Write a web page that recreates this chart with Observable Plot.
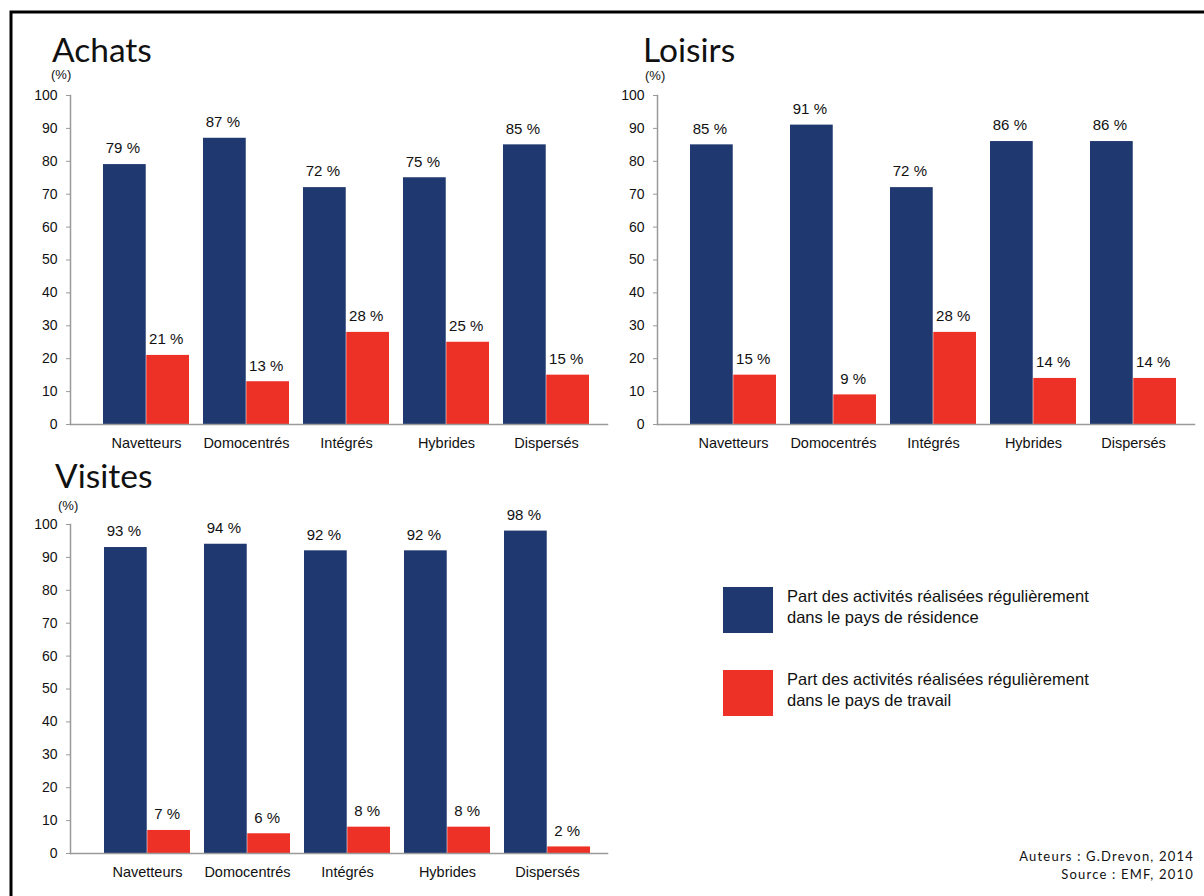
<!DOCTYPE html>
<html><head><meta charset="utf-8">
<script src="https://cdn.jsdelivr.net/npm/d3@7"></script>
<script src="https://cdn.jsdelivr.net/npm/@observablehq/plot@0.6"></script>
<style>
body{margin:0;background:#fff;}
#page{position:relative;width:1204px;height:896px;overflow:hidden;background:#fff;}
.panel{position:absolute;}
#overlay{position:absolute;left:0;top:0;pointer-events:none;}
</style></head><body><div id="page"></div>
<script>
// ---- data ----
const categories = ["Navetteurs", "Domocentrés", "Intégrés", "Hybrides", "Dispersés"];
const achatsResidence = [79, 87, 72, 75, 85];
const achatsTravail = [21, 13, 28, 25, 15];
const loisirsResidence = [85, 91, 72, 86, 86];
const loisirsTravail = [15, 9, 28, 14, 14];
const visitesResidence = [93, 94, 92, 92, 98];
const visitesTravail = [7, 6, 8, 8, 2];
const yTicks = [0, 10, 20, 30, 40, 50, 60, 70, 80, 90, 100];
const panelTitles = ["Achats", "Loisirs", "Visites"];
const unitLabel = "(%)";
const seriesNames = [
  ["Part des activités réalisées régulièrement", "dans le pays de résidence"],
  ["Part des activités réalisées régulièrement", "dans le pays de travail"]
];
const seriesColors = ["#1f386f", "#ee3126"];
const captionLines = ["Auteurs : G.Drevon, 2014", "Source : EMF, 2010"];

const page = document.getElementById("page");
const axisColor = "#9a9a9a";
const textColor = "#111";

function panel(res, trav, {left, top, width, rangeX}) {
  const rows = categories.map((c, i) => ({cat: c, res: res[i], trav: trav[i]}));
  const bw = (rangeX[1] - rangeX[0]) / (categories.length - 0.14) * 0.86;
  const half = bw / 2;
  const chart = Plot.plot({
    width, height: 384,
    marginTop: 15, marginBottom: 40, marginLeft: 70, marginRight: width - 607,
    style: {fontFamily: "'Liberation Sans', Arial, sans-serif", fontSize: "14px", color: textColor, background: "transparent", overflow: "visible"},
    x: {domain: categories, range: rangeX, paddingInner: 0.14, paddingOuter: 0, label: null},
    y: {domain: [0, 100], label: null},
    marks: [
      Plot.barY(rows, {x: "cat", y: "res", fill: seriesColors[0], insetRight: half}),
      Plot.barY(rows, {x: "cat", y: "trav", fill: seriesColors[1], insetLeft: half}),
      Plot.text(rows, {x: "cat", y: "res", text: d => d.res + " %", dx: -half / 2 - 2, dy: -16, lineAnchor: "middle", fontSize: 15, fill: textColor}),
      Plot.text(rows, {x: "cat", y: "trav", text: d => d.trav + " %", dx: half / 2 - 2, dy: -16, lineAnchor: "middle", fontSize: 15, fill: textColor}),
      Plot.axisY({ticks: yTicks, tickSize: 4, tickPadding: 9, stroke: axisColor, fill: textColor, fontSize: 14, label: null}),
      Plot.axisX({tickSize: 0, tickPadding: 13, fontSize: 14.5, fill: textColor, label: null}),
      Plot.frame({anchor: "left", stroke: axisColor, strokeWidth: 1.5}),
      Plot.frame({anchor: "bottom", stroke: axisColor, strokeWidth: 1.5})
    ]
  });
  chart.classList.add("panel");
  chart.style.left = left + "px";
  chart.style.top = top + "px";
  page.appendChild(chart);
}

panel(achatsResidence, achatsTravail, {left: 0, top: 80, width: 620, rangeX: [102, 591]});
panel(loisirsResidence, loisirsTravail, {left: 587, top: 80, width: 617, rangeX: [102, 591]});
panel(visitesResidence, visitesTravail, {left: 0, top: 509, width: 620, rangeX: [103, 592]});

// ---- overlay: frame, titles, legend, caption ----
const svg = d3.select(page).append("svg").attr("id", "overlay").attr("width", 1204).attr("height", 896);
svg.append("path").attr("d", "M11,896V12H1204").attr("fill", "none").attr("stroke", "#000").attr("stroke-width", 3);

const titlePos = [[52, 62], [643, 62], [55, 488]];
const unitPos = [[51, 79], [645, 80], [58, 510]];
panelTitles.forEach((t, i) => {
  svg.append("text").attr("x", titlePos[i][0]).attr("y", titlePos[i][1])
    .attr("font-family", "Lato, 'Open Sans', sans-serif").attr("font-size", 33.5).attr("fill", textColor).text(t);
  svg.append("text").attr("x", unitPos[i][0]).attr("y", unitPos[i][1])
    .attr("font-family", "'Liberation Sans', Arial, sans-serif").attr("font-size", 13).attr("fill", textColor).text(unitLabel);
});

const legendY = [587, 670];
seriesNames.forEach((lines, i) => {
  svg.append("rect").attr("x", 723).attr("y", legendY[i]).attr("width", 50).attr("height", 46).attr("fill", seriesColors[i]);
  lines.forEach((l, j) => {
    svg.append("text").attr("x", 787).attr("y", legendY[i] + 15 + j * 20.5)
      .attr("font-family", "'Liberation Sans', Arial, sans-serif").attr("font-size", 16.5).attr("fill", textColor).text(l);
  });
});

captionLines.forEach((l, j) => {
  svg.append("text").attr("x", 1194).attr("y", 861 + j * 18).attr("text-anchor", "end")
    .attr("font-family", "Lato, 'Open Sans', sans-serif").attr("font-size", 13)
    .attr("letter-spacing", 1.2).attr("fill", textColor).text(l);
});
</script></body></html>
